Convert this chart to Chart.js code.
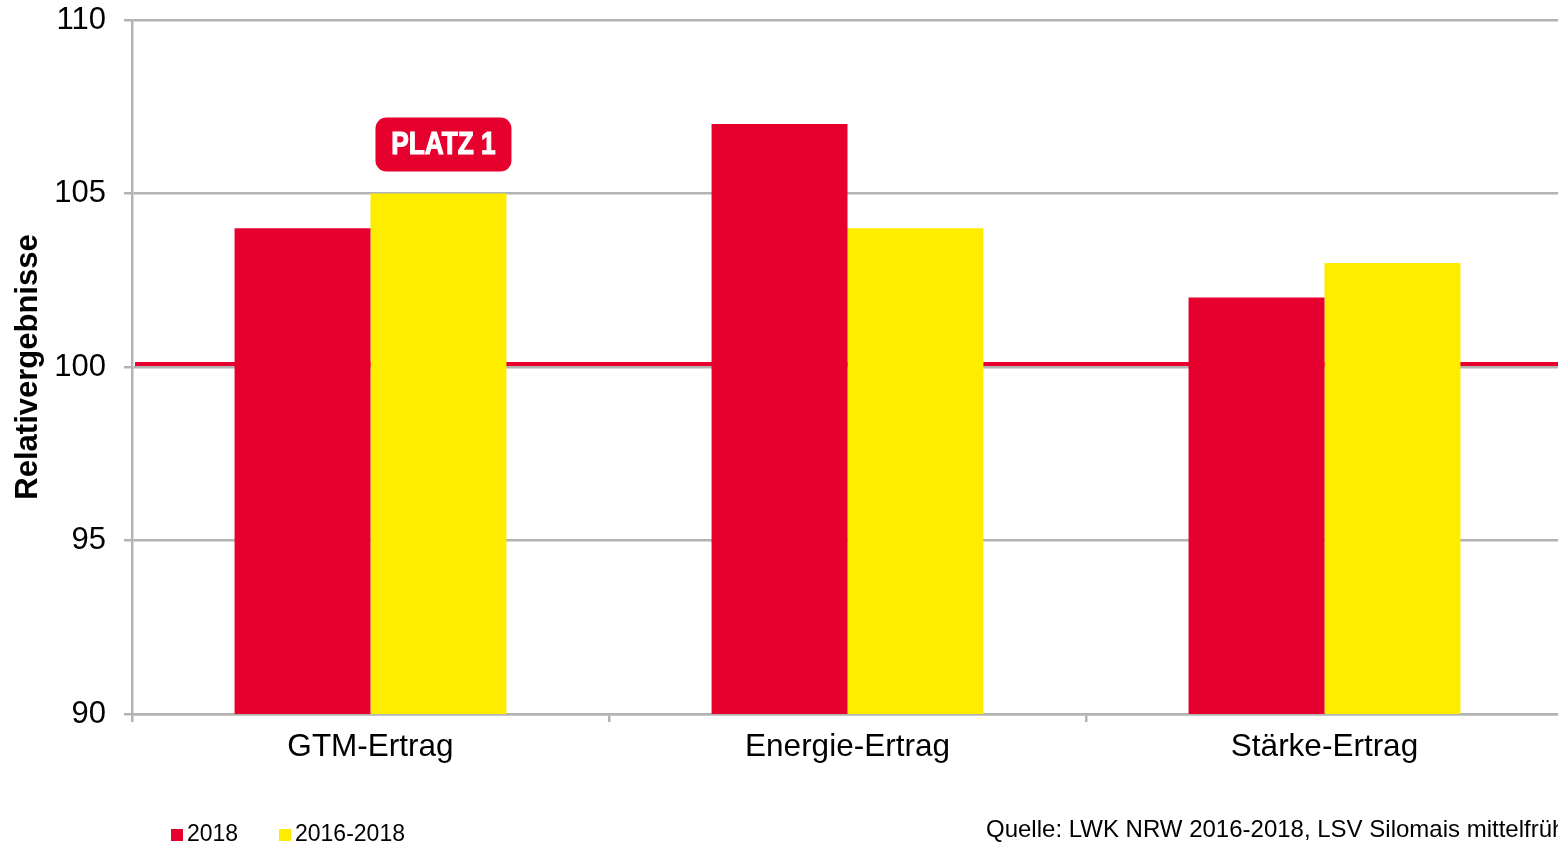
<!DOCTYPE html>
<html>
<head>
<meta charset="utf-8">
<script src="https://cdn.jsdelivr.net/npm/chart.js@4/dist/chart.umd.min.js"></script>
<style>
  html, body { margin: 0; padding: 0; background: #fff; overflow: hidden; }
  #wrap { width: 1563px; height: 848px; position: relative; }
</style>
</head>
<body>
<div id="wrap"><canvas id="chart"></canvas></div>
<script>
// Data
const categories = ["GTM-Ertrag", "Energie-Ertrag", "Stärke-Ertrag"];
const values2018 = [104, 107, 102];
const values2016to2018 = [105, 104, 103];
const seriesLabels = ["2018", "2016-2018"];
const yTicks = [90, 95, 100, 105, 110];
const referenceLine = 100;
const badgeText = "PLATZ 1";
const sourceText = "Quelle: LWK NRW 2016-2018, LSV Silomais mittelfrüh";

const red = "#E6002E";
const yellow = "#FFED00";
const grey = "#B3B3B3";
const fontFamily = "'Liberation Sans', Arial, sans-serif";

// red reference line at 100, behind the bars
const refLinePlugin = {
  id: "refLine",
  beforeDatasetsDraw(chart) {
    const ctx = chart.ctx;
    const y = chart.scales.y.getPixelForValue(referenceLine) - 3;
    ctx.save();
    ctx.strokeStyle = red;
    ctx.lineWidth = 4;
    ctx.beginPath();
    ctx.moveTo(chart.chartArea.left + 3, y);
    ctx.lineTo(chart.chartArea.right, y);
    ctx.stroke();
    ctx.restore();
  }
};

// "PLATZ 1" badge over the first 2016-2018 bar
const badgePlugin = {
  id: "badge",
  afterDatasetsDraw(chart) {
    const bar = chart.getDatasetMeta(1).data[0];
    const ctx = chart.ctx;
    const w = 136, h = 54;
    const cx = bar.x + 5;
    const bottom = bar.y - 22;
    ctx.save();
    ctx.fillStyle = red;
    ctx.beginPath();
    ctx.roundRect(cx - w / 2, bottom - h, w, h, 11);
    ctx.fill();
    ctx.fillStyle = "#fff";
    ctx.strokeStyle = "#fff";
    ctx.lineWidth = 1.2;
    ctx.font = "bold 32px 'Liberation Sans Narrow', 'Liberation Sans', Arial, sans-serif";
    ctx.textAlign = "center";
    ctx.textBaseline = "middle";
    // condensed look
    ctx.translate(cx, bottom - h / 2 + 1);
    ctx.scale(0.82, 1);
    ctx.fillText(badgeText, 0, 0);
    ctx.strokeText(badgeText, 0, 0);
    ctx.restore();
  }
};

// legend bottom-left and source bottom-right
const footerPlugin = {
  id: "footer",
  afterDraw(chart) {
    const ctx = chart.ctx;
    ctx.save();
    ctx.font = "23px " + fontFamily;
    ctx.textBaseline = "middle";
    ctx.textAlign = "left";
    const colors = [red, yellow];
    const xs = [171, 279];
    for (let i = 0; i < seriesLabels.length; i++) {
      ctx.fillStyle = colors[i];
      ctx.fillRect(xs[i], 829, 12, 12);
      ctx.fillStyle = "#000";
      ctx.fillText(seriesLabels[i], xs[i] + 16, 835);
    }
    ctx.font = "24px " + fontFamily;
    ctx.fillText(sourceText, 986, 830);
    ctx.restore();
  }
};

new Chart(document.getElementById("chart"), {
  type: "bar",
  data: {
    labels: categories,
    datasets: [
      { label: seriesLabels[0], data: values2018, backgroundColor: red },
      { label: seriesLabels[1], data: values2016to2018, backgroundColor: yellow }
    ]
  },
  options: {
    responsive: true,
    maintainAspectRatio: false,
    animation: false,
    layout: { padding: { top: 20, right: 0, left: 0, bottom: 0 } },
    datasets: { bar: { categoryPercentage: 0.57, barPercentage: 1.0 } },
    plugins: {
      legend: { display: false },
      tooltip: { enabled: false }
    },
    scales: {
      x: {
        grid: {
          offset: true,
          drawOnChartArea: false,
          drawTicks: true,
          tickLength: 8,
          color: grey,
          lineWidth: 2.5
        },
        border: { color: grey, width: 2.5 },
        ticks: {
          color: "#000",
          font: { family: fontFamily, size: 31.5 },
          padding: 6
        },
        afterFit(scale) { scale.height = 134; }
      },
      y: {
        min: 90,
        max: 110,
        afterBuildTicks(scale) { scale.ticks = yTicks.map(v => ({ value: v })); },
        grid: {
          color: grey,
          lineWidth: 2.5,
          tickLength: 8
        },
        border: { color: grey, width: 2.5 },
        ticks: {
          color: "#000",
          font: { family: fontFamily, size: 31 },
          padding: 18
        },
        title: {
          display: true,
          text: "Relativergebnisse",
          color: "#000",
          font: { family: fontFamily, size: 31, weight: "bold" },
          padding: { top: 10, bottom: 0 }
        },
        afterFit(scale) {
          scale.width = 132;
          scale.paddingTop = 0;
          scale.paddingBottom = 0;
        }
      }
    }
  },
  plugins: [refLinePlugin, badgePlugin, footerPlugin]
});
</script>
</body>
</html>
